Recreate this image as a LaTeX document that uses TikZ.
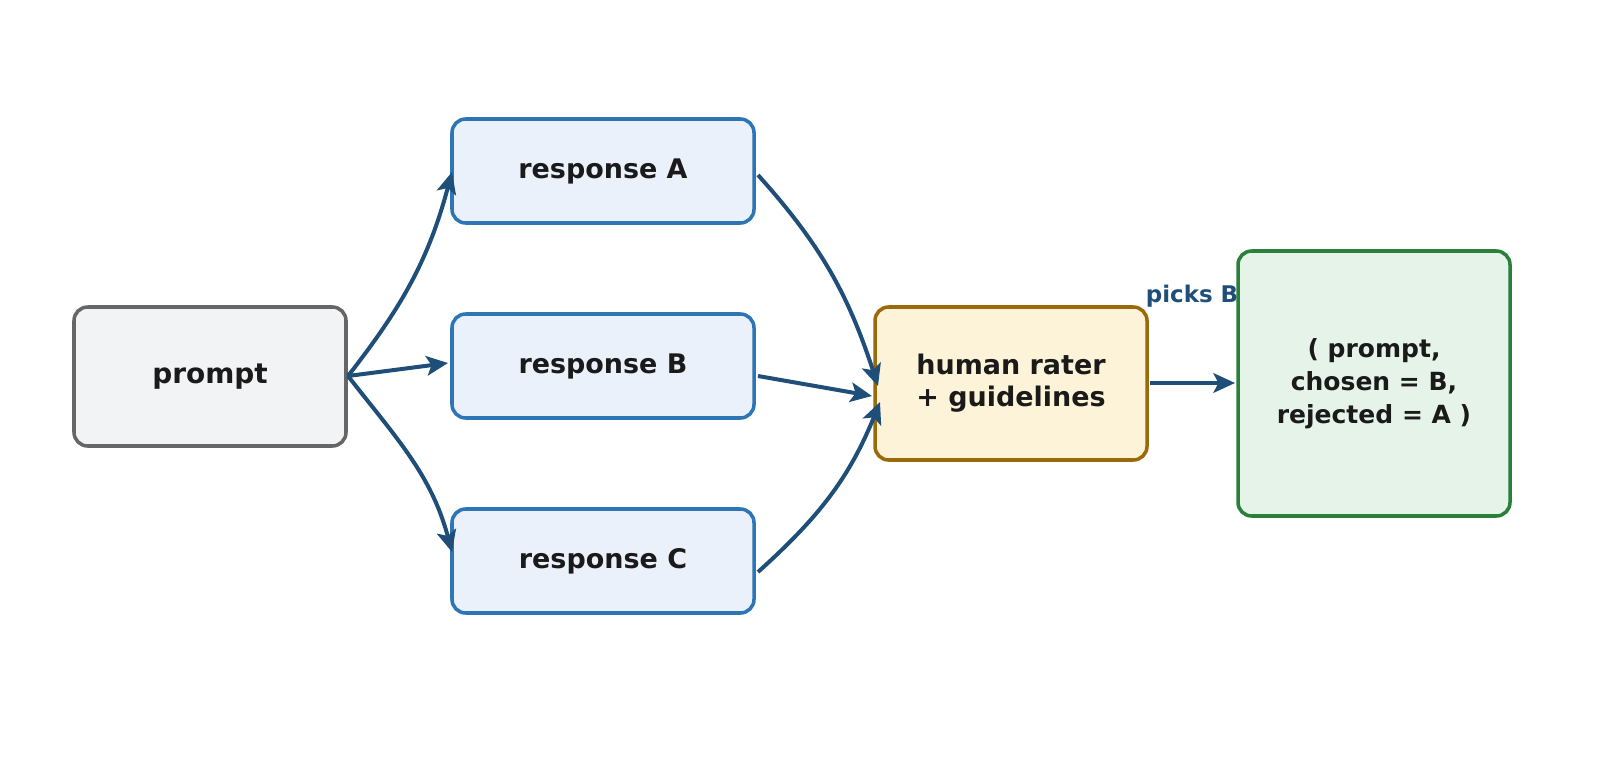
\documentclass[tikz,border=0pt]{standalone}
\usepackage{fontspec}
\setmainfont{DejaVu Sans}
\usetikzlibrary{arrows.meta}
\definecolor{arr}{HTML}{1F4E79}
\definecolor{txt}{HTML}{1A1A1A}
\definecolor{rbd}{HTML}{2E75B6}
\definecolor{rfi}{HTML}{EAF1FB}
\def\k{1.0236}
\begin{document}
\begin{tikzpicture}[x=1.0236pt,y=-1.0236pt,
 box/.style={draw,rounded corners=14pt,line width=3.6pt,align=center,text=txt,font=\fontsize{27.6}{33}\selectfont\bfseries,inner sep=0pt},
 conn/.style={draw=arr,line width=4.1pt,-{Stealth[length=22pt,width=20pt,inset=5pt]}}]
\node[box,draw=black!60,fill={rgb,255:red,242;green,243;blue,245},minimum width=272*\k pt,minimum height=139*\k pt,font=\fontsize{28.6}{34}\selectfont\bfseries] (p) at (210,376.5) {prompt};
\node[box,draw=rbd,fill=rfi,minimum width=302*\k pt,minimum height=104*\k pt] (a) at (603,171) {response A};
\node[box,draw=rbd,fill=rfi,minimum width=302*\k pt,minimum height=104*\k pt] (b) at (603,366) {response B};
\node[box,draw=rbd,fill=rfi,minimum width=302*\k pt,minimum height=104*\k pt] (c) at (603,561) {response C};
\node[box,draw={rgb,255:red,154;green,106;blue,10},fill={rgb,255:red,253;green,243;blue,216},minimum width=272*\k pt,minimum height=153*\k pt] (h) at (1011,383.5) {human rater\\+ guidelines};
\node[box,draw={rgb,255:red,42;green,127;blue,58},fill={rgb,255:red,229;green,243;blue,232},minimum width=272*\k pt,minimum height=265*\k pt,font=\fontsize{25.6}{33.8}\selectfont\bfseries] (f) at (1374,383.5) {( prompt,\\chosen = B,\\rejected = A )};
\coordinate (pe) at (348,376);
\draw[conn] (pe) to[out=52,in=-105] (452,172);
\draw[conn] (pe) -- (448,363);
\draw[conn] (pe) to[out=-52,in=105] (452,552);
\draw[conn] (758,175) to[out=-48,in=108] (878,386);
\draw[conn] (758,376) -- (872,396);
\draw[conn] (758,572) to[out=42,in=-112] (880,402);
\draw[conn] (1150,383) -- (1235,383);
\node[text=arr,font=\fontsize{23.5}{28}\selectfont\bfseries] (lbl) at (1192,296) {picks B};
\pgfresetboundingbox
\useasboundingbox (0,0) rectangle (1607,772);
\end{tikzpicture}
\end{document}
